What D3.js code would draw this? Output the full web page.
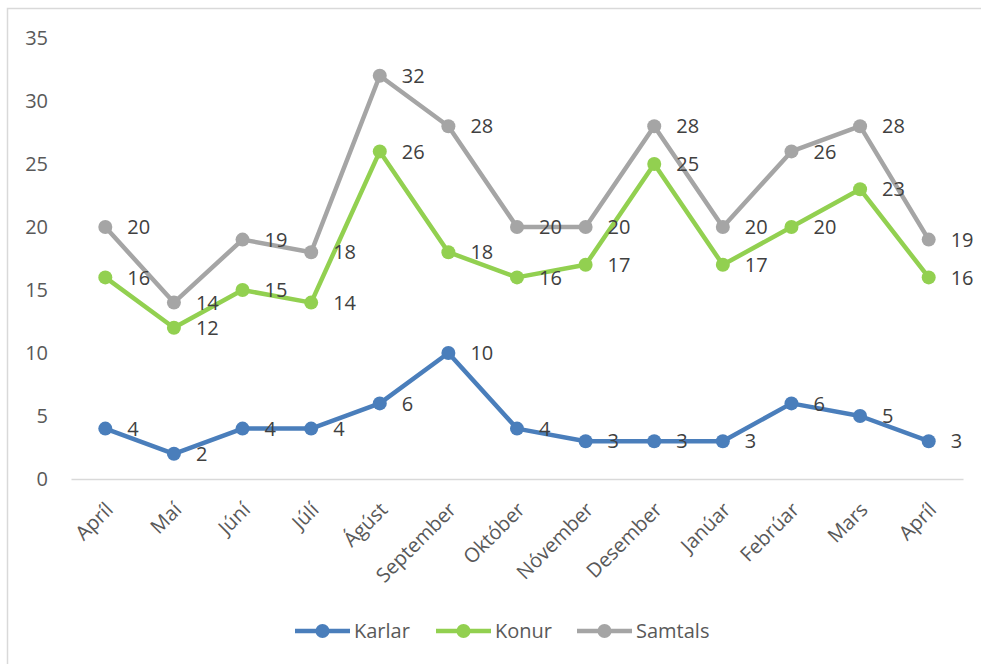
<!DOCTYPE html>
<html>
<head>
<meta charset="utf-8">
<script src="https://cdn.jsdelivr.net/npm/d3@7"></script>
<style>
  body { margin: 0; background: #fff; }
  text { font-family: "Open Sans", "Noto Sans", sans-serif; }
</style>
</head>
<body>
<div id="chart"></div>
<script>
const months = ["Apríl", "Maí", "Júní", "Júlí", "Ágúst", "September", "Október",
  "Nóvember", "Desember", "Janúar", "Febrúar", "Mars", "Apríl"];
const karlar = [4, 2, 4, 4, 6, 10, 4, 3, 3, 3, 6, 5, 3];
const konur = [16, 12, 15, 14, 26, 18, 16, 17, 25, 17, 20, 23, 16];
const samtals = [20, 14, 19, 18, 32, 28, 20, 20, 28, 20, 26, 28, 19];
const yTicks = [0, 5, 10, 15, 20, 25, 30, 35];

const series = [
  { name: "Karlar", values: karlar, color: "#4a7ebb" },
  { name: "Konur", values: konur, color: "#92d050" },
  { name: "Samtals", values: samtals, color: "#a5a5a5" }
];

const width = 981, height = 664;
const plotL = 71, plotR = 963, plotT = 38, plotB = 479;
const fs = "20px";

const svg = d3.select("#chart").append("svg")
  .attr("width", width)
  .attr("height", height);

// chart frame, runs off the right and bottom edges like the screenshot
svg.append("rect")
  .attr("x", 7.5).attr("y", 8.5)
  .attr("width", 990).attr("height", 680)
  .attr("fill", "none")
  .attr("stroke", "#d9d9d9")
  .attr("stroke-width", 1.5);

const x = d3.scaleBand()
  .domain(d3.range(months.length))
  .range([plotL, plotR]);

const y = d3.scaleLinear()
  .domain([0, 35])
  .range([plotB, plotT]);

const cx = i => x(i) + x.bandwidth() / 2;

// y axis labels only
svg.append("g")
  .attr("transform", `translate(${plotL - 23},0)`)
  .call(d3.axisLeft(y).tickValues(yTicks).tickSize(0).tickPadding(0))
  .call(g => g.select(".domain").remove())
  .call(g => g.selectAll("text")
    .attr("fill", "#595959")
    .style("font-size", fs)
    .attr("text-anchor", "end"));

// x axis line
svg.append("g")
  .attr("transform", `translate(0,${plotB})`)
  .call(d3.axisBottom(x).tickSize(0).tickFormat(""))
  .call(g => g.select(".domain").attr("stroke", "#d9d9d9").attr("stroke-width", 1.5));

svg.append("g")
  .selectAll("text")
  .data(months)
  .join("text")
  .attr("transform", (d, i) => `translate(${cx(i) + 9},${plotB + 32}) rotate(-45)`)
  .attr("text-anchor", "end")
  .attr("fill", "#595959")
  .style("font-size", fs)
  .text(d => d);

const line = d3.line()
  .x((d, i) => cx(i))
  .y(d => y(d));

series.forEach(s => {
  const g = svg.append("g");
  g.append("path")
    .datum(s.values)
    .attr("d", line)
    .attr("fill", "none")
    .attr("stroke", s.color)
    .attr("stroke-width", 4.5)
    .attr("stroke-linejoin", "round");
  g.selectAll("circle")
    .data(s.values)
    .join("circle")
    .attr("cx", (d, i) => cx(i))
    .attr("cy", d => y(d))
    .attr("r", 7)
    .attr("fill", s.color);
});

// data labels, right of each point
series.forEach(s => {
  svg.append("g")
    .selectAll("text")
    .data(s.values)
    .join("text")
    .attr("x", (d, i) => cx(i) + 22)
    .attr("y", d => y(d))
    .attr("dy", "0.36em")
    .attr("fill", "#404040")
    .style("font-size", fs)
    .text(d => d);
});

// legend
const legendX = [295, 436, 577];
const legend = svg.append("g")
  .selectAll("g")
  .data(series)
  .join("g")
  .attr("transform", (d, i) => `translate(${legendX[i]},631)`);
legend.append("line")
  .attr("x1", 0).attr("x2", 55)
  .attr("stroke", d => d.color)
  .attr("stroke-width", 4.5);
legend.append("circle")
  .attr("cx", 27.5)
  .attr("r", 7)
  .attr("fill", d => d.color);
legend.append("text")
  .attr("x", 59)
  .attr("dy", "0.36em")
  .attr("fill", "#595959")
  .style("font-size", fs)
  .text(d => d.name);
</script>
</body>
</html>
